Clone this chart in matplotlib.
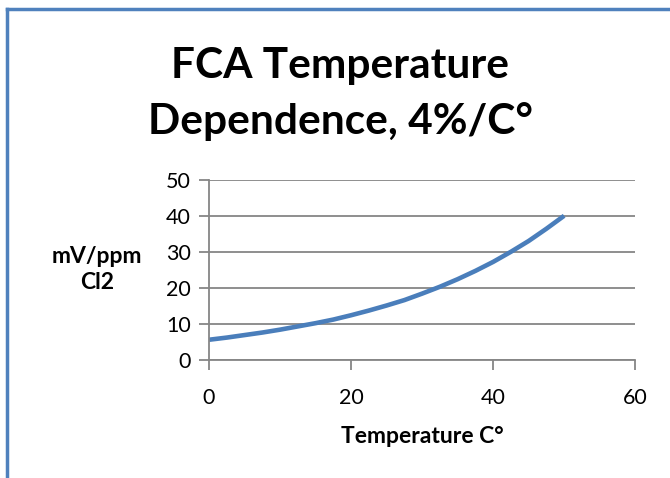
import numpy as np
import matplotlib.pyplot as plt
from matplotlib.lines import Line2D

plt.rcParams['font.family'] = ['Lato', 'DejaVu Sans']

# values
temps = [0, 2.5, 5, 7.5, 10, 12.5, 15, 17.5, 20, 22.5, 25,
         27.5, 30, 32.5, 35, 37.5, 40, 42.5, 45, 47.5, 50]
mv_ppm = [5.6, 6.2, 6.9, 7.6, 8.4, 9.3, 10.2, 11.2, 12.4, 13.7, 15.1,
          16.6, 18.4, 20.3, 22.4, 24.7, 27.2, 30.0, 33.0, 36.4, 40.0]
x_ticks = [0, 20, 40, 60]
y_ticks = [0, 10, 20, 30, 40, 50]

fig = plt.figure(figsize=(6.7, 4.78), dpi=100)
ax = fig.add_axes([0.312, 0.247, 0.636, 0.377])

ax.plot(temps, mv_ppm, color='#4A7EBB', linewidth=3.3, solid_capstyle='butt')

ax.set_xlim(0, 60)
ax.set_ylim(0, 50)
ax.set_xticks(x_ticks)
ax.set_yticks(y_ticks)
ax.grid(axis='y', color='#868686', linewidth=1.3)
ax.set_axisbelow(True)
for s in ['top', 'right']:
    ax.spines[s].set_visible(False)
for s in ['left', 'bottom']:
    ax.spines[s].set_color('#868686')
    ax.spines[s].set_linewidth(1.3)
ax.tick_params(axis='both', colors='#868686', length=7, width=1.3,
               labelsize=15.5, labelcolor='black')
ax.tick_params(axis='x', pad=13)
ax.tick_params(axis='y', pad=6)

fig.text(0.508, 0.862, 'FCA Temperature', ha='center', va='center',
         fontsize=30.5, fontweight='bold')
fig.text(0.508, 0.746, 'Dependence, 4%/C°', ha='center', va='center',
         fontsize=30.5, fontweight='bold')
fig.text(0.145, 0.437, 'mV/ppm\nCl2', ha='center', va='center',
         fontsize=16.5, fontweight='bold', linespacing=1.3)
fig.text(0.63, 0.086, 'Temperature C°', ha='center', va='center',
         fontsize=16.5, fontweight='bold')

# outer chart border (top and left visible)
fig.add_artist(Line2D([0.011, 1.0], [0.981, 0.981], transform=fig.transFigure,
                      color='#4F81BD', linewidth=2.5))
fig.add_artist(Line2D([0.011, 0.011], [0.0, 0.981], transform=fig.transFigure,
                      color='#4F81BD', linewidth=2.5))

fig.savefig('out.png', dpi=100)
